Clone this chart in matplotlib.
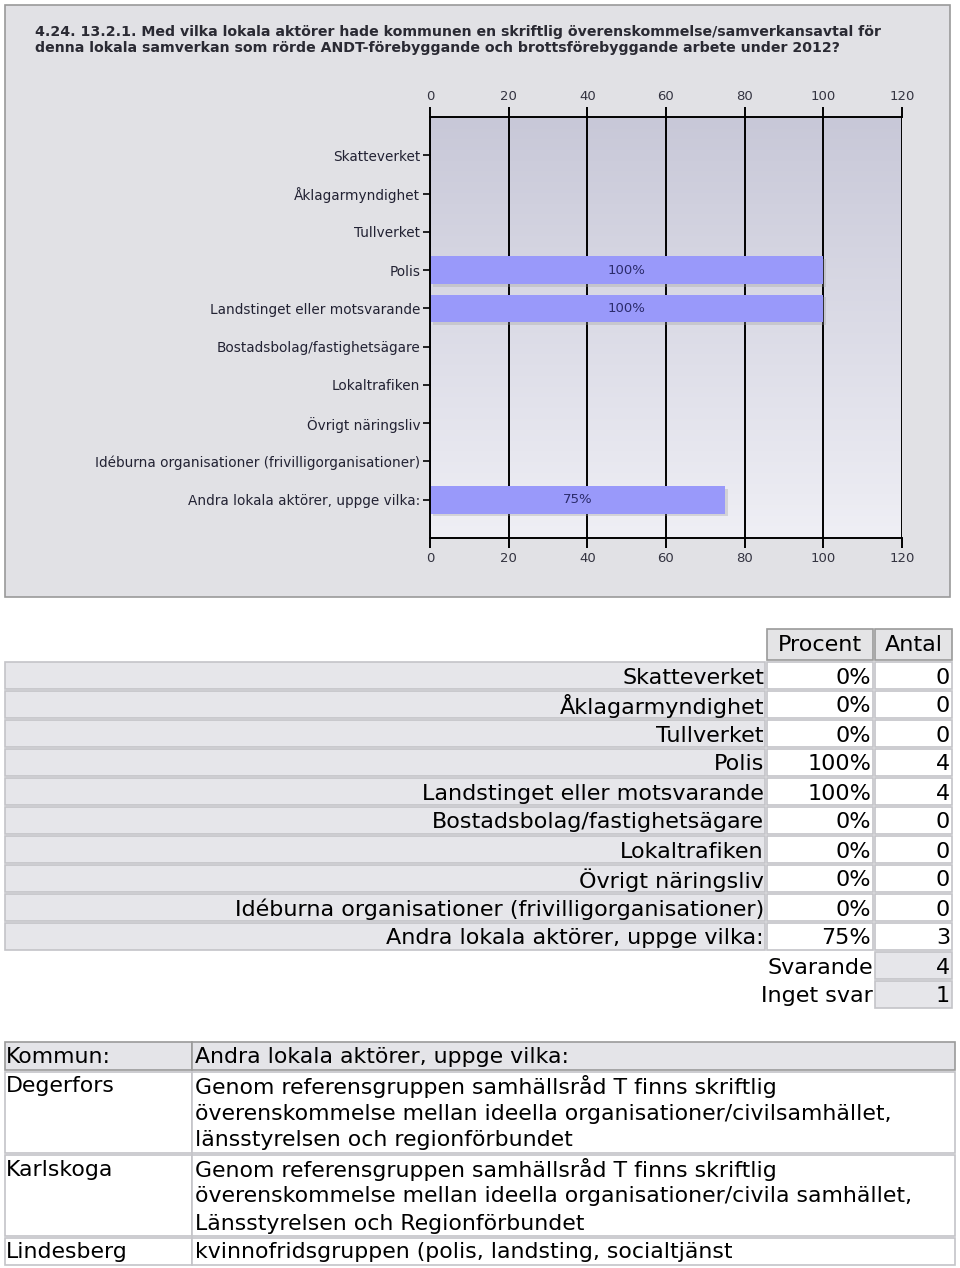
import matplotlib
matplotlib.use("Agg")
import matplotlib.pyplot as plt
import matplotlib.patheffects as pe
from matplotlib.patches import Rectangle
import numpy as np

# --- data ---
title = ("4.24. 13.2.1. Med vilka lokala aktörer hade kommunen en skriftlig överenskommelse/samverkansavtal för\n"
         "denna lokala samverkan som rörde ANDT-förebyggande och brottsförebyggande arbete under 2012?")
categories = [
    "Skatteverket",
    "Åklagarmyndighet",
    "Tullverket",
    "Polis",
    "Landstinget eller motsvarande",
    "Bostadsbolag/fastighetsägare",
    "Lokaltrafiken",
    "Övrigt näringsliv",
    "Idéburna organisationer (frivilligorganisationer)",
    "Andra lokala aktörer, uppge vilka:",
]
procent = [0, 0, 0, 100, 100, 0, 0, 0, 0, 75]
antal = [0, 0, 0, 4, 4, 0, 0, 0, 0, 3]
svarande = 4
inget_svar = 1
x_ticks = [0, 20, 40, 60, 80, 100, 120]

kommuner = ["Degerfors", "Karlskoga", "Lindesberg"]
svar = [
    "Genom referensgruppen samhällsråd T finns skriftlig\n"
    "överenskommelse mellan ideella organisationer/civilsamhället,\n"
    "länsstyrelsen och regionförbundet",
    "Genom referensgruppen samhällsråd T finns skriftlig\n"
    "överenskommelse mellan ideella organisationer/civila samhället,\n"
    "Länsstyrelsen och Regionförbundet",
    "kvinnofridsgruppen (polis, landsting, socialtjänst",
]

W, H = 960, 1268
fig = plt.figure(figsize=(W / 100, H / 100), dpi=100, facecolor="white")

# overlay axes in pixel coordinates for panel and tables
bg = fig.add_axes([0, 0, 1, 1], zorder=0)
bg.set_xlim(0, W)
bg.set_ylim(H, 0)
bg.axis("off")

# chart panel
bg.add_patch(Rectangle((5, 5), 945, 592, facecolor="#e1e1e5", edgecolor="#9a9a9a", lw=1.2))
bg.text(35, 40, title, fontsize=10.2, fontweight="bold", color="#2a2a33",
        va="center", ha="left", linespacing=1.2)

# --- bar chart ---
x0, x1, y0, y1 = 430, 902, 117, 538
ax = fig.add_axes([x0 / W, 1 - y1 / H, (x1 - x0) / W, (y1 - y0) / H], zorder=1)
ax.set_facecolor("none")
grad = np.linspace(0, 1, 256).reshape(-1, 1)
ax.imshow(grad, extent=[0, 1, 0, 1], transform=ax.transAxes, aspect="auto",
          cmap=matplotlib.colors.LinearSegmentedColormap.from_list("g", ["#efeff5", "#c8c8d8"]),
          origin="lower", zorder=0)

ypos = np.arange(len(categories))
bars = ax.barh(ypos, procent, height=0.72, color="#9999fa", zorder=3,
               path_effects=[pe.SimplePatchShadow(offset=(2, -2), shadow_rgbFace="#999999", alpha=0.3),
                             pe.Normal()])
for b, v in zip(bars, procent):
    if v > 0:
        ax.text(b.get_width() / 2, b.get_y() + b.get_height() / 2, f"{v}%",
                ha="center", va="center", fontsize=9.5, color="#2b2b6b", zorder=4)

ax.set_xlim(0, 120)
ax.set_ylim(len(categories), -1)
ax.set_xticks(x_ticks)
ax.set_yticks(ypos)
ax.set_yticklabels(categories)
ax.grid(axis="x", color="black", lw=1.4, zorder=2)
ax.set_axisbelow(False)
for s in ["left", "top", "bottom"]:
    ax.spines[s].set_color("black")
    ax.spines[s].set_linewidth(1.4)
    ax.spines[s].set_zorder(5)
ax.spines["right"].set_visible(False)
ax.tick_params(axis="x", top=True, labeltop=True, bottom=True, labelbottom=True,
               length=7, width=1.4, colors="black", labelcolor="#333340", labelsize=9.5, pad=3)
ax.tick_params(axis="y", length=5, width=1.2, colors="black", labelcolor="#222233",
               labelsize=9.8, pad=2)

# --- summary table ---
fs = 16
lx0, lx1 = 5, 765
px0, px1 = 767, 873
ax0, ax1_ = 875, 952
border = "#c4c4c8"
gray = "#e6e6ea"

# header
bg.add_patch(Rectangle((px0, 629), px1 - px0, 31, facecolor="#e4e4e6", edgecolor="#9a9a9a", lw=1.2))
bg.add_patch(Rectangle((ax0, 629), ax1_ - ax0, 31, facecolor="#e4e4e6", edgecolor="#9a9a9a", lw=1.2))
bg.text((px0 + px1) / 2, 645, "Procent", ha="center", va="center", fontsize=fs)
bg.text((ax0 + ax1_) / 2, 645, "Antal", ha="center", va="center", fontsize=fs)

row_h = 29
ytop = 662
for i, (c, p, a) in enumerate(zip(categories, procent, antal)):
    yt = ytop + i * row_h
    bg.add_patch(Rectangle((lx0, yt), lx1 - lx0, row_h - 2, facecolor=gray, edgecolor=border, lw=1.2))
    bg.add_patch(Rectangle((px0, yt), px1 - px0, row_h - 2, facecolor="white", edgecolor=border, lw=1.2))
    bg.add_patch(Rectangle((ax0, yt), ax1_ - ax0, row_h - 2, facecolor="white", edgecolor=border, lw=1.2))
    ym = yt + row_h / 2 + 1
    bg.text(lx1 - 1, ym, c, ha="right", va="center", fontsize=fs)
    bg.text(px1 - 2, ym, f"{p}%", ha="right", va="center", fontsize=fs)
    bg.text(ax1_ - 2, ym, f"{a}", ha="right", va="center", fontsize=fs)

for j, (lab, val) in enumerate([("Svarande", svarande), ("Inget svar", inget_svar)]):
    yt = ytop + (len(categories) + j) * row_h
    bg.add_patch(Rectangle((ax0, yt), ax1_ - ax0, row_h - 2, facecolor=gray, edgecolor=border, lw=1.2))
    ym = yt + row_h / 2 + 1
    bg.text(px1, ym, lab, ha="right", va="center", fontsize=fs)
    bg.text(ax1_ - 2, ym, f"{val}", ha="right", va="center", fontsize=fs)

# --- answers table ---
fs2 = 15.8
c0, c1, c2 = 5, 192, 955
bg.add_patch(Rectangle((c0, 1042), c1 - c0, 28, facecolor="#e4e4e8", edgecolor="#9a9a9a", lw=1.2))
bg.add_patch(Rectangle((c1, 1042), c2 - c1, 28, facecolor="#e4e4e8", edgecolor="#9a9a9a", lw=1.2))
bg.text(c0 + 1, 1057, "Kommun:", ha="left", va="center", fontsize=fs2)
bg.text(c1 + 3, 1057, "Andra lokala aktörer, uppge vilka:", ha="left", va="center", fontsize=fs2)

line_h = 27
yt = 1072
for k, s in zip(kommuner, svar):
    n = s.count("\n") + 1
    h = n * line_h
    bg.add_patch(Rectangle((c0, yt), c1 - c0, h, facecolor="white", edgecolor=border, lw=1.2))
    bg.add_patch(Rectangle((c1, yt), c2 - c1, h, facecolor="white", edgecolor=border, lw=1.2))
    bg.text(c0 + 1, yt + line_h / 2 + 1, k, ha="left", va="center", fontsize=fs2)
    for li, line in enumerate(s.split("\n")):
        bg.text(c1 + 3, yt + line_h / 2 + 1 + li * line_h, line, ha="left", va="center", fontsize=fs2)
    yt += h + 2

fig.savefig("out.png", dpi=100, facecolor="white")
